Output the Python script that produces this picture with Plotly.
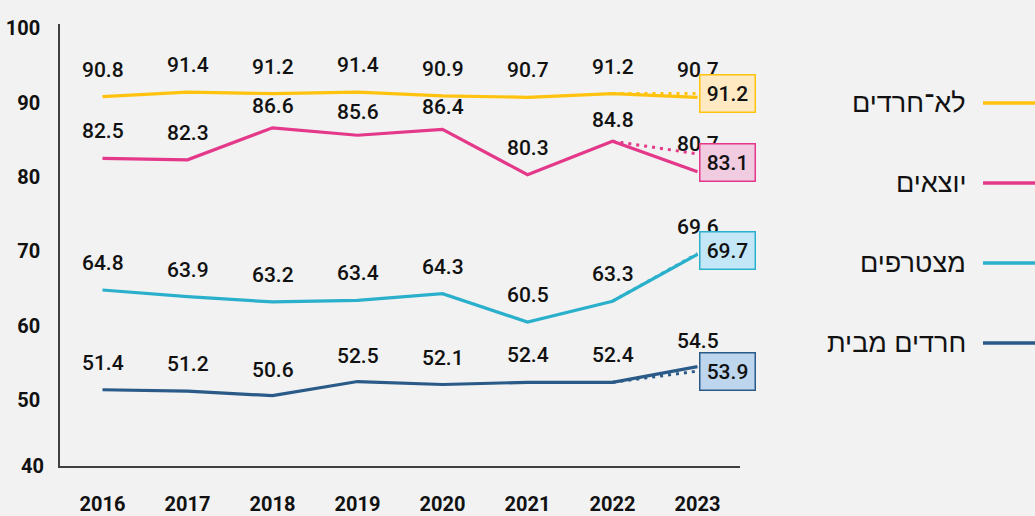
import plotly.graph_objects as go

# ---------------- data ----------------
years = [2016, 2017, 2018, 2019, 2020, 2021, 2022, 2023]
series_names = ["לא־חרדים", "יוצאים", "מצטרפים", "חרדים מבית"]
non_haredi = [90.8, 91.4, 91.2, 91.4, 90.9, 90.7, 91.2, 90.7]
leavers = [82.5, 82.3, 86.6, 85.6, 86.4, 80.3, 84.8, 80.7]
joiners = [64.8, 63.9, 63.2, 63.4, 64.3, 60.5, 63.3, 69.6]
haredi_home = [51.4, 51.2, 50.6, 52.5, 52.1, 52.4, 52.4, 54.5]
boxed_2023 = [91.2, 83.1, 69.7, 53.9]
y_ticks = [50, 60, 70, 80, 90, 100]
y_bottom_label = "40"

# ---------------- styling / layout helpers ----------------
W, H = 1035, 516
L, R, T, B = 60, 295, 24, 50
PW, PH = W - L - R, H - T - B

colors = ["#FFC20E", "#E4388A", "#2BB0CC", "#2A5A88"]
box_fill = ["#FFE9C2", "#F1CBE0", "#C3E7F6", "#BDD6EE"]
label_shift = [
    [27, 27, 27, 27, 27, 27, 27, 27],
    [27, 27, 22, 23, 22, 27, 21, 28],
    [27, 27, 27, 27, 27, 27, 27, 27],
    [27, 27, 26, 26, 27, 27, 27, 26],
]
box_yshift = [0, -9, 3, 0]
legend_py = [103, 183, 263, 343]

NUM_FONT = "Roboto, 'Open Sans', sans-serif"
HEB_FONT = "'Liberation Sans', 'DejaVu Sans', sans-serif"

all_series = [non_haredi, leavers, joiners, haredi_home]

fig = go.Figure()
annotations = []
shapes = []

for i, vals in enumerate(all_series):
    # dotted projection from 2022 to the boxed 2023 value
    fig.add_trace(go.Scatter(
        x=[years[-2], years[-1]], y=[vals[-2], boxed_2023[i]],
        mode="lines", line=dict(color=colors[i], width=3, dash="3px,5px"),
        hoverinfo="skip", showlegend=False,
    ))
    fig.add_trace(go.Scatter(
        x=years, y=vals, mode="lines",
        line=dict(color=colors[i], width=3.2),
        name=series_names[i], showlegend=False,
    ))
    for j, (x, v) in enumerate(zip(years, vals)):
        annotations.append(dict(
            x=x, y=v, xref="x", yref="y", text=f"{v:.1f}", showarrow=False,
            xanchor="center", yanchor="middle", yshift=label_shift[i][j],
            font=dict(family=NUM_FONT, size=21, color="#111111", weight=500),
        ))
    # boxed value
    annotations.append(dict(
        x=years[-1], y=boxed_2023[i], xref="x", yref="y",
        text=f"{boxed_2023[i]:.1f}", showarrow=False,
        xanchor="left", yanchor="middle", xshift=1, yshift=box_yshift[i],
        font=dict(family=NUM_FONT, size=21, color="#111111", weight=500),
        bgcolor=box_fill[i], bordercolor=colors[i], borderwidth=1.5,
        borderpad=2, width=50, height=32, align="center", valign="middle",
    ))
    # legend (text + line on the right)
    py = legend_py[i]
    yp = (H - B - py) / PH
    annotations.append(dict(
        x=(968 - L) / PW, y=yp, xref="paper", yref="paper",
        text=series_names[i], showarrow=False, xanchor="right", yanchor="middle",
        font=dict(family=HEB_FONT, size=27, color="#111111"),
    ))
    shapes.append(dict(
        type="line", xref="paper", yref="paper",
        x0=(983 - L) / PW, x1=(1040 - L) / PW, y0=yp, y1=yp,
        line=dict(color=colors[i], width=3.5),
    ))

# bottom "40" tick label
annotations.append(dict(
    x=0, y=0, xref="paper", yref="y domain", text=y_bottom_label, showarrow=False,
    xanchor="right", yanchor="middle", xshift=-14,
    font=dict(family=NUM_FONT, size=20, color="#111111", weight="bold"),
))

fig.update_layout(
    width=W, height=H,
    margin=dict(l=L, r=R, t=T, b=B, pad=0, autoexpand=False),
    paper_bgcolor="#F2F2F2", plot_bgcolor="#F2F2F2",
    showlegend=False,
    annotations=annotations, shapes=shapes,
    xaxis=dict(
        range=[2015.5, 2023.5], tickvals=years, ticktext=[str(y) for y in years],
        showgrid=False, zeroline=False, showline=True, linecolor="#404040",
        linewidth=1.5, ticks="", ticklabelstandoff=19, automargin=False,
        tickfont=dict(family=NUM_FONT, size=20, color="#111111", weight="bold"),
    ),
    yaxis=dict(
        range=[41.15, 100.55], tickvals=y_ticks, ticktext=[str(t) for t in y_ticks],
        showgrid=False, zeroline=False, showline=True, linecolor="#404040",
        linewidth=1.5, ticks="", ticklabelstandoff=14, automargin=False,
        tickfont=dict(family=NUM_FONT, size=20, color="#111111", weight="bold"),
    ),
)

fig.write_html(
    "out.html",
    config={"displayModeBar": False},
    post_script="document.body.style.margin='0';document.body.style.background='#F2F2F2';document.body.style.overflow='hidden';",
)
